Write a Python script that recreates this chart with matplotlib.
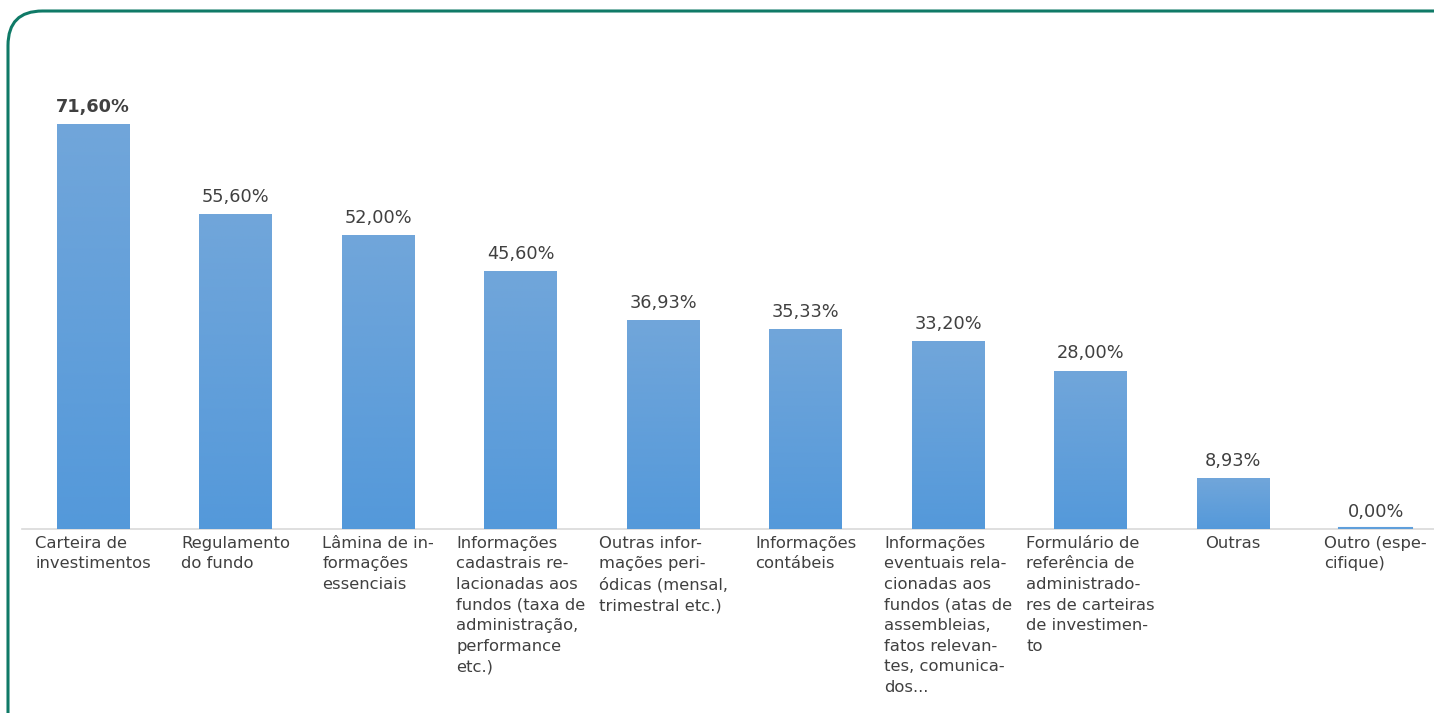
import numpy as np
import matplotlib.pyplot as plt
from matplotlib.patches import FancyBboxPatch
from matplotlib.colors import LinearSegmentedColormap

categories = [
    "Carteira de\ninvestimentos",
    "Regulamento\ndo fundo",
    "Lâmina de in-\nformações\nessenciais",
    "Informações\ncadastrais re-\nlacionadas aos\nfundos (taxa de\nadministração,\nperformance\netc.)",
    "Outras infor-\nmações peri-\nódicas (mensal,\ntrimestral etc.)",
    "Informações\ncontábeis",
    "Informações\neventuais rela-\ncionadas aos\nfundos (atas de\nassembleias,\nfatos relevan-\ntes, comunica-\ndos...",
    "Formulário de\nreferência de\nadministrado-\nres de carteiras\nde investimen-\nto",
    "Outras",
    "Outro (espe-\ncifique)",
]
values = [71.60, 55.60, 52.00, 45.60, 36.93, 35.33, 33.20, 28.00, 8.93, 0.00]

plt.rcParams['font.family'] = ['DejaVu Sans']
W, H = 1434, 713
fig = plt.figure(figsize=(W / 100, H / 100), dpi=100)

# rounded green frame
frame = FancyBboxPatch((8 / W, -0.2), 1.2, (H - 11) / H + 0.2,
                       boxstyle="round,pad=0,rounding_size=0.024",
                       transform=fig.transFigure, fill=False,
                       edgecolor='#0f7a67', lw=2.2, mutation_aspect=W / H)
fig.patches.append(frame)

ymax = 80
base_px, per_pct = 529, 5.657
top_px = base_px - ymax * per_pct
ax = fig.add_axes([22 / W, (H - base_px) / H, (1434 - 22) / W, (base_px - top_px) / H])
x = np.arange(len(values))

cmap = LinearSegmentedColormap.from_list('g', ['#5499da', '#71a6da'])
bars = ax.bar(x, values, width=0.51, color='#5f9fdb', edgecolor='none', zorder=2)
grad = np.linspace(0, 1, 256).reshape(-1, 1)
for b in bars:
    if b.get_height() <= 0:
        continue
    im = ax.imshow(grad, cmap=cmap, origin='lower', aspect='auto', zorder=3,
                   extent=[b.get_x(), b.get_x() + b.get_width(), 0, b.get_height()])
    im.set_clip_path(b)
ax.set_xlim(-0.5, 9.41)
ax.set_ylim(0, ymax)
# zero bar shows as thin line
ax.plot([9 - 0.255, 9 + 0.255], [0.15, 0.15], color='#5f9fdb', lw=1.5, zorder=4)

for i, v in enumerate(values):
    ax.annotate(f"{v:.2f}%".replace('.', ','), (i, v), xytext=(0, 6),
                textcoords='offset points', ha='center', va='bottom',
                fontsize=12.8, color='#404040',
                fontweight='bold' if i == 0 else 'normal')

ax.set_xticks(x)
ax.set_xticklabels(categories, fontsize=11.8, color='#404040', linespacing=1.46,
                   ha='center', multialignment='left', va='top')
ax.tick_params(axis='x', length=0, pad=5)
ax.set_yticks([])
for s in ['top', 'left', 'right']:
    ax.spines[s].set_visible(False)
ax.spines['bottom'].set_color('#d9d9d9')
ax.spines['bottom'].set_linewidth(1.2)
ax.patch.set_visible(False)

fig.savefig('out.png', dpi=100)
